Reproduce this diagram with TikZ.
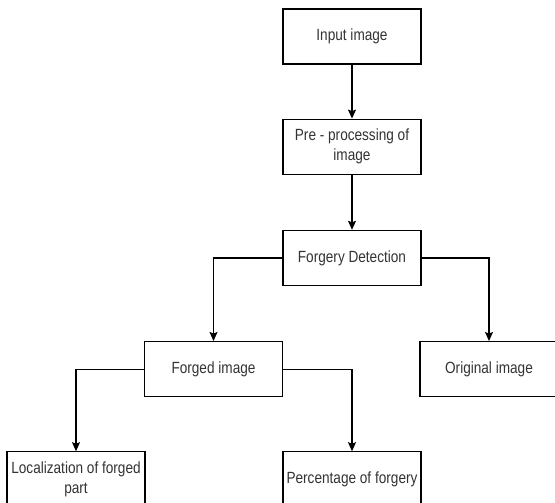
\documentclass[tikz,border=0pt]{standalone}
\usepackage{fontspec}
\setmainfont[FakeStretch=0.84]{Liberation Sans}
\usetikzlibrary{positioning,arrows.meta}

\begin{document}
\begin{tikzpicture}[
  x=1pt, y=1pt,
  node distance=55pt,
  box/.style={rectangle, draw, line width=1.2pt, minimum width=138pt, minimum height=55pt, align=center, inner sep=2pt, text=black!80, font=\fontsize{16.2}{20}\selectfont},
  arrow/.style={-{Stealth[length=9pt, width=8pt, inset=1.5pt]}, line width=1.2pt}
]
\useasboundingbox (0,0) rectangle (555,-503);

% main chain
\node[box] (input) at (352,-36.5) {Input image};
\node[box, below=54pt of input] (prep) {Pre - processing of\\image};
\node[box, below=55pt of prep] (detect) {Forgery Detection};

% detection result
\node[box, below=55pt of detect, xshift=-138.5pt] (forged) {Forged image};
\node[box, below=55pt of detect, xshift=137pt] (original) {Original image};

% forged image outputs
\node[box, below=54pt of forged, xshift=-137.5pt] (local) {Localization of forged\\part};
\node[box, below=54pt of forged, xshift=138.5pt] (percent) {Percentage of forgery};

\draw[arrow] (input) -- (prep);
\draw[arrow] (prep) -- (detect);
\draw[arrow] (detect.west) -| (forged.north);
\draw[arrow] (detect.east) -| (original.north);
\draw[arrow] (forged.west) -| (local.north);
\draw[arrow] (forged.east) -| (percent.north);

\end{tikzpicture}
\end{document}
